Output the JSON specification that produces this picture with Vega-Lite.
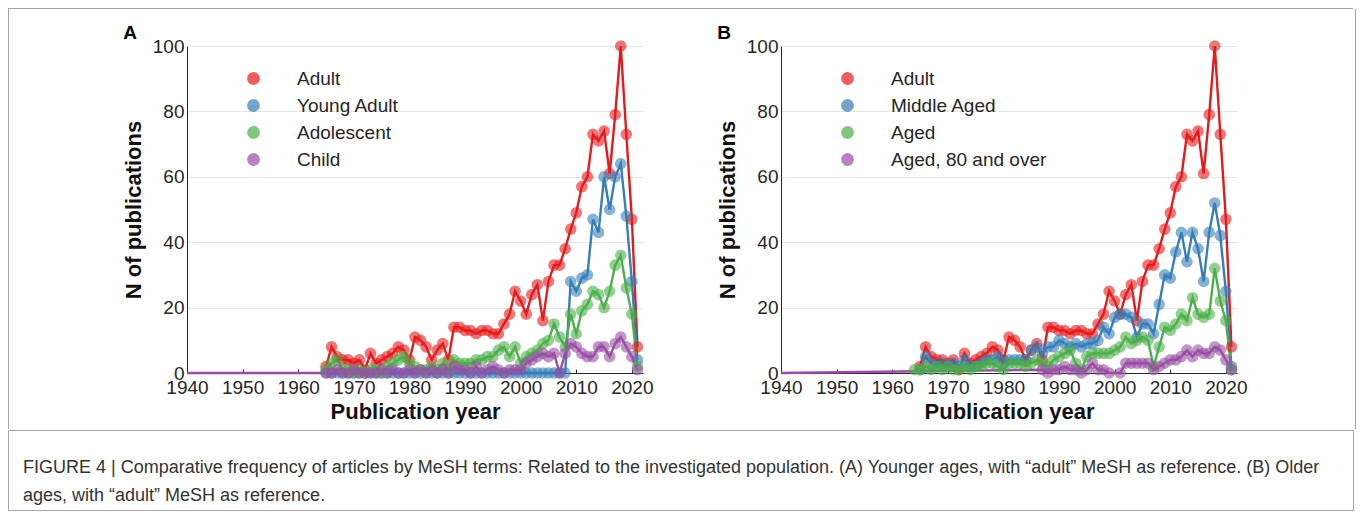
{
  "$schema": "https://vega.github.io/schema/vega-lite/v6.json",
  "padding": {"left": 7, "top": 8, "right": 0, "bottom": 0},
  "background": "white",
  "config": {
    "view": {"stroke": null},
    "font": "Liberation Sans",
    "axis": {"labelFont": "Liberation Sans", "labelFontSize": 19, "labelColor": "#262626", "domainColor": "#262626", "tickColor": "#262626", "titleFont": "Liberation Sans", "titleFontSize": 22, "titleFontWeight": "bold", "titleColor": "#111", "gridColor": "#e6e6e6", "labelOverlap": false, "labelFlush": false},
    "legend": {"labelFont": "Liberation Sans", "labelFontSize": 19, "labelColor": "#262626", "symbolType": "circle", "symbolSize": 165, "symbolOpacity": 0.7, "symbolStrokeWidth": 0, "labelOffset": 34, "rowPadding": 7, "padding": 0, "orient": "none", "legendX": 57, "legendY": 23, "title": null}
  },
  "datasets": {
    "A": [
      {"series":"Adult","year":1965,"n":2},{"series":"Adult","year":1966,"n":8},{"series":"Adult","year":1967,"n":5},{"series":"Adult","year":1968,"n":4},{"series":"Adult","year":1969,"n":4},{"series":"Adult","year":1970,"n":3},{"series":"Adult","year":1971,"n":4},{"series":"Adult","year":1972,"n":1},{"series":"Adult","year":1973,"n":6},{"series":"Adult","year":1974,"n":3},{"series":"Adult","year":1975,"n":4},{"series":"Adult","year":1976,"n":5},{"series":"Adult","year":1977,"n":6},{"series":"Adult","year":1978,"n":8},{"series":"Adult","year":1979,"n":7},{"series":"Adult","year":1980,"n":4},{"series":"Adult","year":1981,"n":11},{"series":"Adult","year":1982,"n":10},{"series":"Adult","year":1983,"n":8},{"series":"Adult","year":1984,"n":4},{"series":"Adult","year":1985,"n":7},{"series":"Adult","year":1986,"n":9},{"series":"Adult","year":1987,"n":4},{"series":"Adult","year":1988,"n":14},{"series":"Adult","year":1989,"n":14},{"series":"Adult","year":1990,"n":13},{"series":"Adult","year":1991,"n":13},{"series":"Adult","year":1992,"n":12},{"series":"Adult","year":1993,"n":13},{"series":"Adult","year":1994,"n":13},{"series":"Adult","year":1995,"n":12},{"series":"Adult","year":1996,"n":12},{"series":"Adult","year":1997,"n":15},{"series":"Adult","year":1998,"n":18},{"series":"Adult","year":1999,"n":25},{"series":"Adult","year":2000,"n":22},{"series":"Adult","year":2001,"n":18},{"series":"Adult","year":2002,"n":24},{"series":"Adult","year":2003,"n":27},{"series":"Adult","year":2004,"n":16},{"series":"Adult","year":2005,"n":28},{"series":"Adult","year":2006,"n":33},{"series":"Adult","year":2007,"n":33},{"series":"Adult","year":2008,"n":38},{"series":"Adult","year":2009,"n":44},{"series":"Adult","year":2010,"n":49},{"series":"Adult","year":2011,"n":57},{"series":"Adult","year":2012,"n":60},{"series":"Adult","year":2013,"n":73},{"series":"Adult","year":2014,"n":71},{"series":"Adult","year":2015,"n":74},{"series":"Adult","year":2016,"n":61},{"series":"Adult","year":2017,"n":79},{"series":"Adult","year":2018,"n":100},{"series":"Adult","year":2019,"n":73},{"series":"Adult","year":2020,"n":47},{"series":"Adult","year":2021,"n":8},
      {"series":"Young Adult","year":1965,"n":0},{"series":"Young Adult","year":1966,"n":0},{"series":"Young Adult","year":1967,"n":0},{"series":"Young Adult","year":1968,"n":0},{"series":"Young Adult","year":1969,"n":0},{"series":"Young Adult","year":1970,"n":0},{"series":"Young Adult","year":1971,"n":0},{"series":"Young Adult","year":1972,"n":0},{"series":"Young Adult","year":1973,"n":0},{"series":"Young Adult","year":1974,"n":0},{"series":"Young Adult","year":1975,"n":0},{"series":"Young Adult","year":1976,"n":0},{"series":"Young Adult","year":1977,"n":0},{"series":"Young Adult","year":1978,"n":0},{"series":"Young Adult","year":1979,"n":0},{"series":"Young Adult","year":1980,"n":0},{"series":"Young Adult","year":1981,"n":0},{"series":"Young Adult","year":1982,"n":0},{"series":"Young Adult","year":1983,"n":0},{"series":"Young Adult","year":1984,"n":0},{"series":"Young Adult","year":1985,"n":0},{"series":"Young Adult","year":1986,"n":0},{"series":"Young Adult","year":1987,"n":0},{"series":"Young Adult","year":1988,"n":0},{"series":"Young Adult","year":1989,"n":0},{"series":"Young Adult","year":1990,"n":0},{"series":"Young Adult","year":1991,"n":0},{"series":"Young Adult","year":1992,"n":0},{"series":"Young Adult","year":1993,"n":0},{"series":"Young Adult","year":1994,"n":0},{"series":"Young Adult","year":1995,"n":0},{"series":"Young Adult","year":1996,"n":0},{"series":"Young Adult","year":1997,"n":0},{"series":"Young Adult","year":1998,"n":0},{"series":"Young Adult","year":1999,"n":0},{"series":"Young Adult","year":2000,"n":0},{"series":"Young Adult","year":2001,"n":0},{"series":"Young Adult","year":2002,"n":0},{"series":"Young Adult","year":2003,"n":0},{"series":"Young Adult","year":2004,"n":0},{"series":"Young Adult","year":2005,"n":0},{"series":"Young Adult","year":2006,"n":0},{"series":"Young Adult","year":2007,"n":0},{"series":"Young Adult","year":2008,"n":0},{"series":"Young Adult","year":2009,"n":28},{"series":"Young Adult","year":2010,"n":25},{"series":"Young Adult","year":2011,"n":29},{"series":"Young Adult","year":2012,"n":30},{"series":"Young Adult","year":2013,"n":47},{"series":"Young Adult","year":2014,"n":43},{"series":"Young Adult","year":2015,"n":60},{"series":"Young Adult","year":2016,"n":50},{"series":"Young Adult","year":2017,"n":60},{"series":"Young Adult","year":2018,"n":64},{"series":"Young Adult","year":2019,"n":48},{"series":"Young Adult","year":2020,"n":28},{"series":"Young Adult","year":2021,"n":4},
      {"series":"Adolescent","year":1965,"n":1},{"series":"Adolescent","year":1966,"n":3},{"series":"Adolescent","year":1967,"n":4},{"series":"Adolescent","year":1968,"n":1},{"series":"Adolescent","year":1969,"n":1},{"series":"Adolescent","year":1970,"n":0},{"series":"Adolescent","year":1971,"n":1},{"series":"Adolescent","year":1972,"n":0},{"series":"Adolescent","year":1973,"n":1},{"series":"Adolescent","year":1974,"n":1},{"series":"Adolescent","year":1975,"n":0},{"series":"Adolescent","year":1976,"n":2},{"series":"Adolescent","year":1977,"n":3},{"series":"Adolescent","year":1978,"n":4},{"series":"Adolescent","year":1979,"n":5},{"series":"Adolescent","year":1980,"n":3},{"series":"Adolescent","year":1981,"n":2},{"series":"Adolescent","year":1982,"n":1},{"series":"Adolescent","year":1983,"n":1},{"series":"Adolescent","year":1984,"n":2},{"series":"Adolescent","year":1985,"n":1},{"series":"Adolescent","year":1986,"n":3},{"series":"Adolescent","year":1987,"n":1},{"series":"Adolescent","year":1988,"n":4},{"series":"Adolescent","year":1989,"n":3},{"series":"Adolescent","year":1990,"n":3},{"series":"Adolescent","year":1991,"n":3},{"series":"Adolescent","year":1992,"n":4},{"series":"Adolescent","year":1993,"n":4},{"series":"Adolescent","year":1994,"n":5},{"series":"Adolescent","year":1995,"n":5},{"series":"Adolescent","year":1996,"n":7},{"series":"Adolescent","year":1997,"n":8},{"series":"Adolescent","year":1998,"n":5},{"series":"Adolescent","year":1999,"n":8},{"series":"Adolescent","year":2000,"n":3},{"series":"Adolescent","year":2001,"n":5},{"series":"Adolescent","year":2002,"n":6},{"series":"Adolescent","year":2003,"n":7},{"series":"Adolescent","year":2004,"n":9},{"series":"Adolescent","year":2005,"n":10},{"series":"Adolescent","year":2006,"n":15},{"series":"Adolescent","year":2007,"n":11},{"series":"Adolescent","year":2008,"n":8},{"series":"Adolescent","year":2009,"n":18},{"series":"Adolescent","year":2010,"n":12},{"series":"Adolescent","year":2011,"n":19},{"series":"Adolescent","year":2012,"n":21},{"series":"Adolescent","year":2013,"n":25},{"series":"Adolescent","year":2014,"n":24},{"series":"Adolescent","year":2015,"n":20},{"series":"Adolescent","year":2016,"n":25},{"series":"Adolescent","year":2017,"n":33},{"series":"Adolescent","year":2018,"n":36},{"series":"Adolescent","year":2019,"n":26},{"series":"Adolescent","year":2020,"n":18},{"series":"Adolescent","year":2021,"n":2},
      {"series":"Child","year":1940,"n":0},{"series":"Child","year":1965,"n":0},{"series":"Child","year":1966,"n":0},{"series":"Child","year":1967,"n":1},{"series":"Child","year":1968,"n":0},{"series":"Child","year":1969,"n":0},{"series":"Child","year":1970,"n":1},{"series":"Child","year":1971,"n":0},{"series":"Child","year":1972,"n":0},{"series":"Child","year":1973,"n":0},{"series":"Child","year":1974,"n":0},{"series":"Child","year":1975,"n":1},{"series":"Child","year":1976,"n":0},{"series":"Child","year":1977,"n":1},{"series":"Child","year":1978,"n":0},{"series":"Child","year":1979,"n":0},{"series":"Child","year":1980,"n":1},{"series":"Child","year":1981,"n":0},{"series":"Child","year":1982,"n":1},{"series":"Child","year":1983,"n":0},{"series":"Child","year":1984,"n":1},{"series":"Child","year":1985,"n":0},{"series":"Child","year":1986,"n":1},{"series":"Child","year":1987,"n":0},{"series":"Child","year":1988,"n":2},{"series":"Child","year":1989,"n":1},{"series":"Child","year":1990,"n":1},{"series":"Child","year":1991,"n":0},{"series":"Child","year":1992,"n":2},{"series":"Child","year":1993,"n":0},{"series":"Child","year":1994,"n":1},{"series":"Child","year":1995,"n":2},{"series":"Child","year":1996,"n":1},{"series":"Child","year":1997,"n":0},{"series":"Child","year":1998,"n":1},{"series":"Child","year":1999,"n":1},{"series":"Child","year":2000,"n":1},{"series":"Child","year":2001,"n":3},{"series":"Child","year":2002,"n":4},{"series":"Child","year":2003,"n":5},{"series":"Child","year":2004,"n":6},{"series":"Child","year":2005,"n":5},{"series":"Child","year":2006,"n":6},{"series":"Child","year":2007,"n":0},{"series":"Child","year":2008,"n":6},{"series":"Child","year":2009,"n":9},{"series":"Child","year":2010,"n":8},{"series":"Child","year":2011,"n":6},{"series":"Child","year":2012,"n":5},{"series":"Child","year":2013,"n":5},{"series":"Child","year":2014,"n":8},{"series":"Child","year":2015,"n":8},{"series":"Child","year":2016,"n":5},{"series":"Child","year":2017,"n":9},{"series":"Child","year":2018,"n":11},{"series":"Child","year":2019,"n":8},{"series":"Child","year":2020,"n":5},{"series":"Child","year":2021,"n":1}
    ],
    "B": [
      {"series":"Adult","year":1965,"n":2},{"series":"Adult","year":1966,"n":8},{"series":"Adult","year":1967,"n":5},{"series":"Adult","year":1968,"n":4},{"series":"Adult","year":1969,"n":4},{"series":"Adult","year":1970,"n":3},{"series":"Adult","year":1971,"n":4},{"series":"Adult","year":1972,"n":1},{"series":"Adult","year":1973,"n":6},{"series":"Adult","year":1974,"n":3},{"series":"Adult","year":1975,"n":4},{"series":"Adult","year":1976,"n":5},{"series":"Adult","year":1977,"n":6},{"series":"Adult","year":1978,"n":8},{"series":"Adult","year":1979,"n":7},{"series":"Adult","year":1980,"n":4},{"series":"Adult","year":1981,"n":11},{"series":"Adult","year":1982,"n":10},{"series":"Adult","year":1983,"n":8},{"series":"Adult","year":1984,"n":4},{"series":"Adult","year":1985,"n":7},{"series":"Adult","year":1986,"n":9},{"series":"Adult","year":1987,"n":4},{"series":"Adult","year":1988,"n":14},{"series":"Adult","year":1989,"n":14},{"series":"Adult","year":1990,"n":13},{"series":"Adult","year":1991,"n":13},{"series":"Adult","year":1992,"n":12},{"series":"Adult","year":1993,"n":13},{"series":"Adult","year":1994,"n":13},{"series":"Adult","year":1995,"n":12},{"series":"Adult","year":1996,"n":12},{"series":"Adult","year":1997,"n":15},{"series":"Adult","year":1998,"n":18},{"series":"Adult","year":1999,"n":25},{"series":"Adult","year":2000,"n":22},{"series":"Adult","year":2001,"n":18},{"series":"Adult","year":2002,"n":24},{"series":"Adult","year":2003,"n":27},{"series":"Adult","year":2004,"n":16},{"series":"Adult","year":2005,"n":28},{"series":"Adult","year":2006,"n":33},{"series":"Adult","year":2007,"n":33},{"series":"Adult","year":2008,"n":38},{"series":"Adult","year":2009,"n":44},{"series":"Adult","year":2010,"n":49},{"series":"Adult","year":2011,"n":57},{"series":"Adult","year":2012,"n":60},{"series":"Adult","year":2013,"n":73},{"series":"Adult","year":2014,"n":71},{"series":"Adult","year":2015,"n":74},{"series":"Adult","year":2016,"n":61},{"series":"Adult","year":2017,"n":79},{"series":"Adult","year":2018,"n":100},{"series":"Adult","year":2019,"n":73},{"series":"Adult","year":2020,"n":47},{"series":"Adult","year":2021,"n":8},
      {"series":"Middle Aged","year":1965,"n":1},{"series":"Middle Aged","year":1966,"n":5},{"series":"Middle Aged","year":1967,"n":3},{"series":"Middle Aged","year":1968,"n":2},{"series":"Middle Aged","year":1969,"n":3},{"series":"Middle Aged","year":1970,"n":2},{"series":"Middle Aged","year":1971,"n":3},{"series":"Middle Aged","year":1972,"n":2},{"series":"Middle Aged","year":1973,"n":4},{"series":"Middle Aged","year":1974,"n":2},{"series":"Middle Aged","year":1975,"n":2},{"series":"Middle Aged","year":1976,"n":3},{"series":"Middle Aged","year":1977,"n":4},{"series":"Middle Aged","year":1978,"n":4},{"series":"Middle Aged","year":1979,"n":5},{"series":"Middle Aged","year":1980,"n":3},{"series":"Middle Aged","year":1981,"n":4},{"series":"Middle Aged","year":1982,"n":4},{"series":"Middle Aged","year":1983,"n":4},{"series":"Middle Aged","year":1984,"n":4},{"series":"Middle Aged","year":1985,"n":7},{"series":"Middle Aged","year":1986,"n":8},{"series":"Middle Aged","year":1987,"n":6},{"series":"Middle Aged","year":1988,"n":8},{"series":"Middle Aged","year":1989,"n":8},{"series":"Middle Aged","year":1990,"n":10},{"series":"Middle Aged","year":1991,"n":9},{"series":"Middle Aged","year":1992,"n":8},{"series":"Middle Aged","year":1993,"n":9},{"series":"Middle Aged","year":1994,"n":8},{"series":"Middle Aged","year":1995,"n":9},{"series":"Middle Aged","year":1996,"n":9},{"series":"Middle Aged","year":1997,"n":10},{"series":"Middle Aged","year":1998,"n":14},{"series":"Middle Aged","year":1999,"n":12},{"series":"Middle Aged","year":2000,"n":17},{"series":"Middle Aged","year":2001,"n":18},{"series":"Middle Aged","year":2002,"n":18},{"series":"Middle Aged","year":2003,"n":17},{"series":"Middle Aged","year":2004,"n":11},{"series":"Middle Aged","year":2005,"n":15},{"series":"Middle Aged","year":2006,"n":15},{"series":"Middle Aged","year":2007,"n":12},{"series":"Middle Aged","year":2008,"n":21},{"series":"Middle Aged","year":2009,"n":30},{"series":"Middle Aged","year":2010,"n":29},{"series":"Middle Aged","year":2011,"n":37},{"series":"Middle Aged","year":2012,"n":43},{"series":"Middle Aged","year":2013,"n":34},{"series":"Middle Aged","year":2014,"n":43},{"series":"Middle Aged","year":2015,"n":38},{"series":"Middle Aged","year":2016,"n":28},{"series":"Middle Aged","year":2017,"n":43},{"series":"Middle Aged","year":2018,"n":52},{"series":"Middle Aged","year":2019,"n":42},{"series":"Middle Aged","year":2020,"n":25},{"series":"Middle Aged","year":2021,"n":2},
      {"series":"Aged","year":1964,"n":1},{"series":"Aged","year":1965,"n":1},{"series":"Aged","year":1966,"n":2},{"series":"Aged","year":1967,"n":1},{"series":"Aged","year":1968,"n":2},{"series":"Aged","year":1969,"n":1},{"series":"Aged","year":1970,"n":2},{"series":"Aged","year":1971,"n":1},{"series":"Aged","year":1972,"n":1},{"series":"Aged","year":1973,"n":2},{"series":"Aged","year":1974,"n":1},{"series":"Aged","year":1975,"n":2},{"series":"Aged","year":1976,"n":2},{"series":"Aged","year":1977,"n":3},{"series":"Aged","year":1978,"n":3},{"series":"Aged","year":1979,"n":2},{"series":"Aged","year":1980,"n":1},{"series":"Aged","year":1981,"n":3},{"series":"Aged","year":1982,"n":3},{"series":"Aged","year":1983,"n":3},{"series":"Aged","year":1984,"n":2},{"series":"Aged","year":1985,"n":3},{"series":"Aged","year":1986,"n":4},{"series":"Aged","year":1987,"n":3},{"series":"Aged","year":1988,"n":2},{"series":"Aged","year":1989,"n":4},{"series":"Aged","year":1990,"n":5},{"series":"Aged","year":1991,"n":6},{"series":"Aged","year":1992,"n":7},{"series":"Aged","year":1993,"n":3},{"series":"Aged","year":1994,"n":1},{"series":"Aged","year":1995,"n":5},{"series":"Aged","year":1996,"n":6},{"series":"Aged","year":1997,"n":6},{"series":"Aged","year":1998,"n":6},{"series":"Aged","year":1999,"n":6},{"series":"Aged","year":2000,"n":7},{"series":"Aged","year":2001,"n":8},{"series":"Aged","year":2002,"n":11},{"series":"Aged","year":2003,"n":9},{"series":"Aged","year":2004,"n":10},{"series":"Aged","year":2005,"n":11},{"series":"Aged","year":2006,"n":10},{"series":"Aged","year":2007,"n":2},{"series":"Aged","year":2008,"n":8},{"series":"Aged","year":2009,"n":14},{"series":"Aged","year":2010,"n":13},{"series":"Aged","year":2011,"n":15},{"series":"Aged","year":2012,"n":18},{"series":"Aged","year":2013,"n":16},{"series":"Aged","year":2014,"n":23},{"series":"Aged","year":2015,"n":18},{"series":"Aged","year":2016,"n":17},{"series":"Aged","year":2017,"n":18},{"series":"Aged","year":2018,"n":32},{"series":"Aged","year":2019,"n":22},{"series":"Aged","year":2020,"n":16},{"series":"Aged","year":2021,"n":1},
      {"series":"Aged, 80 and over","year":1940,"n":0},{"series":"Aged, 80 and over","year":1987,"n":1},{"series":"Aged, 80 and over","year":1988,"n":0},{"series":"Aged, 80 and over","year":1989,"n":1},{"series":"Aged, 80 and over","year":1990,"n":1},{"series":"Aged, 80 and over","year":1991,"n":2},{"series":"Aged, 80 and over","year":1992,"n":1},{"series":"Aged, 80 and over","year":1993,"n":1},{"series":"Aged, 80 and over","year":1994,"n":0},{"series":"Aged, 80 and over","year":1995,"n":1},{"series":"Aged, 80 and over","year":1996,"n":3},{"series":"Aged, 80 and over","year":1997,"n":1},{"series":"Aged, 80 and over","year":1998,"n":1},{"series":"Aged, 80 and over","year":1999,"n":0},{"series":"Aged, 80 and over","year":2001,"n":0},{"series":"Aged, 80 and over","year":2002,"n":3},{"series":"Aged, 80 and over","year":2003,"n":3},{"series":"Aged, 80 and over","year":2004,"n":3},{"series":"Aged, 80 and over","year":2005,"n":3},{"series":"Aged, 80 and over","year":2006,"n":3},{"series":"Aged, 80 and over","year":2007,"n":1},{"series":"Aged, 80 and over","year":2008,"n":2},{"series":"Aged, 80 and over","year":2009,"n":3},{"series":"Aged, 80 and over","year":2010,"n":4},{"series":"Aged, 80 and over","year":2011,"n":4},{"series":"Aged, 80 and over","year":2012,"n":5},{"series":"Aged, 80 and over","year":2013,"n":7},{"series":"Aged, 80 and over","year":2014,"n":5},{"series":"Aged, 80 and over","year":2015,"n":7},{"series":"Aged, 80 and over","year":2016,"n":6},{"series":"Aged, 80 and over","year":2017,"n":6},{"series":"Aged, 80 and over","year":2018,"n":8},{"series":"Aged, 80 and over","year":2019,"n":7},{"series":"Aged, 80 and over","year":2020,"n":4},{"series":"Aged, 80 and over","year":2021,"n":1}
    ],
    "caption": [
      {"line": 1, "text": "FIGURE 4 | Comparative frequency of articles by MeSH terms: Related to the investigated population. (A) Younger ages, with “adult” MeSH as reference. (B) Older"},
      {"line": 2, "text": "ages, with “adult” MeSH as reference."}
    ],
    "blank": [{}]
  },
  "vconcat": [
    {
      "width": 1345, "height": 1,
      "view": {"fill": "#a3a3a3", "stroke": null},
      "data": {"name": "blank"},
      "mark": {"type": "text", "fontSize": 0},
      "encoding": {"text": {"value": ""}}
    },
    {
      "hconcat": [
        {
          "hconcat": [
            {
              "width": 1, "height": 420,
              "view": {"fill": "#a3a3a3", "stroke": null},
              "data": {"name": "blank"},
              "mark": {"type": "text", "fontSize": 0},
              "encoding": {"text": {"value": ""}}
            },
            {
              "vconcat": [
                {
                  "width": 1, "height": 1,
                  "data": {"name": "blank"},
                  "mark": {"type": "text", "fontSize": 0},
                  "encoding": {"text": {"value": ""}}
                },
                {
                  "hconcat": [
                    {
                      "width": 456, "height": 327,
                      "title": {"text": "A", "anchor": "start", "frame": "bounds", "fontSize": 19, "fontWeight": "bold", "offset": -6, "dx": 1, "color": "#000"},
                      "data": {"name": "A"},
                      "encoding": {
                        "x": {"field": "year", "type": "quantitative", "scale": {"domain": [1940, 2022], "nice": false, "zero": false},
                              "axis": {"values": [1940,1950,1960,1970,1980,1990,2000,2010,2020], "format": "d", "grid": false, "title": "Publication year", "tickSize": -4, "labelPadding": 9, "titlePadding": 4}},
                        "y": {"field": "n", "type": "quantitative", "scale": {"domain": [0, 100], "nice": false},
                              "axis": {"values": [0,20,40,60,80,100], "grid": true, "title": "N of publications", "ticks": false, "labelPadding": 3, "titlePadding": 7}},
                        "color": {"field": "series", "type": "nominal",
                                  "scale": {"domain": ["Adult","Young Adult","Adolescent","Child"], "range": ["#e41a1c","#377eb8","#4daf4a","#984ea3"]}}
                      },
                      "layer": [
                        {"mark": {"type": "line", "strokeWidth": 2.4}},
                        {"transform": [{"filter": "datum.year > 1940"}], "mark": {"type": "circle", "size": 135, "opacity": 0.6}}
                      ]
                    },
                    {
                      "width": 456, "height": 327,
                      "title": {"text": "B", "anchor": "start", "frame": "bounds", "fontSize": 19, "fontWeight": "bold", "offset": -6, "dx": 1, "color": "#000"},
                      "data": {"name": "B"},
                      "encoding": {
                        "x": {"field": "year", "type": "quantitative", "scale": {"domain": [1940, 2022], "nice": false, "zero": false},
                              "axis": {"values": [1940,1950,1960,1970,1980,1990,2000,2010,2020], "format": "d", "grid": false, "title": "Publication year", "tickSize": -4, "labelPadding": 9, "titlePadding": 4}},
                        "y": {"field": "n", "type": "quantitative", "scale": {"domain": [0, 100], "nice": false},
                              "axis": {"values": [0,20,40,60,80,100], "grid": true, "title": "N of publications", "ticks": false, "labelPadding": 3, "titlePadding": 7}},
                        "color": {"field": "series", "type": "nominal",
                                  "scale": {"domain": ["Adult","Middle Aged","Aged","Aged, 80 and over"], "range": ["#e41a1c","#377eb8","#4daf4a","#984ea3"]}}
                      },
                      "layer": [
                        {"mark": {"type": "line", "strokeWidth": 2.4}},
                        {"transform": [{"filter": "datum.year > 1940"}], "mark": {"type": "circle", "size": 135, "opacity": 0.6}}
                      ]
                    }
                  ],
                  "spacing": 62,
                  "resolve": {"scale": {"color": "independent"}, "legend": {"color": "independent"}}
                }
              ],
              "spacing": 14
            }
          ],
          "spacing": 113
        },
        {
          "width": 1, "height": 420,
          "view": {"fill": "#a3a3a3", "stroke": null},
          "data": {"name": "blank"},
          "mark": {"type": "text", "fontSize": 0},
          "encoding": {"text": {"value": ""}}
        }
      ],
      "spacing": 107
    },
    {
      "width": 1345, "height": 80,
      "view": {"stroke": "#a3a3a3", "strokeWidth": 1},
      "data": {"name": "caption"},
      "mark": {"type": "text", "align": "left", "baseline": "middle", "dx": 15, "dy": 12, "fontSize": 18, "color": "#333", "font": "Liberation Sans"},
      "encoding": {
        "x": {"datum": 0, "type": "quantitative", "scale": {"domain": [0, 1]}, "axis": null},
        "y": {"field": "line", "type": "ordinal", "scale": {"type": "point", "padding": 0.93}, "axis": null},
        "text": {"field": "text"}
      }
    }
  ],
  "spacing": 0
}
